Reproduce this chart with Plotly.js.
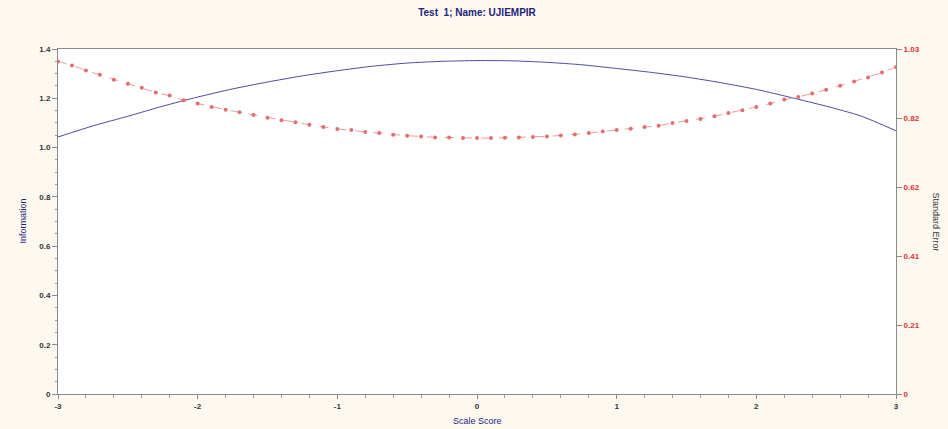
<!DOCTYPE html>
<html>
<head>
<meta charset="utf-8">
<script src="https://cdn.plot.ly/plotly-3.0.1.min.js"></script>
<style>html,body{margin:0;padding:0;background:#fdf9f1;}</style>
</head>
<body>
<div id="chart" style="width:948px;height:429px;"></div>
<script>
// Information curve (left axis)
const infoX = [-3.0,-2.75,-2.5,-2.25,-2.0,-1.75,-1.5,-1.25,-1.0,-0.75,-0.5,-0.25,0,0.25,0.5,0.75,1.0,1.25,1.5,1.75,2.0,2.25,2.5,2.75,3.0];
const infoY = [1.043,1.088,1.127,1.168,1.205,1.238,1.266,1.291,1.312,1.330,1.343,1.350,1.353,1.352,1.346,1.336,1.321,1.305,1.286,1.263,1.236,1.203,1.168,1.128,1.068];

// Standard error curve (right axis)
const seX = [-3.0,-2.9,-2.8,-2.7,-2.6,-2.5,-2.4,-2.3,-2.2,-2.1,-2.0,-1.9,-1.8,-1.7,-1.6,-1.5,-1.4,-1.3,-1.2,-1.1,-1.0,-0.9,-0.8,-0.7,-0.6,-0.5,-0.4,-0.3,-0.2,-0.1,0,0.1,0.2,0.3,0.4,0.5,0.6,0.7,0.8,0.9,1.0,1.1,1.2,1.3,1.4,1.5,1.6,1.7,1.8,1.9,2.0,2.1,2.2,2.3,2.4,2.5,2.6,2.7,2.8,2.9,3.0];
const seY = [0.993,0.981,0.966,0.953,0.938,0.926,0.914,0.900,0.891,0.877,0.867,0.857,0.849,0.841,0.833,0.825,0.817,0.811,0.804,0.797,0.791,0.788,0.782,0.779,0.774,0.771,0.769,0.766,0.766,0.764,0.764,0.764,0.765,0.766,0.767,0.769,0.772,0.775,0.779,0.784,0.788,0.792,0.797,0.801,0.809,0.815,0.821,0.829,0.839,0.847,0.857,0.867,0.879,0.887,0.897,0.908,0.920,0.933,0.945,0.960,0.976];

const xTicks = [-3,-2,-1,0,1,2,3];
const xTickText = ['-3','-2','-1','0','1','2','3'];
const yTicks = [0,0.2,0.4,0.6,0.8,1.0,1.2,1.4];
const yTickText = ['0','0.2','0.4','0.6','0.8','1.0','1.2','1.4'];
const y2Ticks = [0,0.206,0.412,0.618,0.824,1.03];
const y2TickText = ['0','0.21','0.41','0.62','0.82','1.03'];

const titleText = 'Test  1; Name: UJIEMPIR';
const xTitle = 'Scale Score';
const yTitle = 'Information';
const y2Title = 'Standard Error';

const navy = '#23237a';
const font = 'Liberation Sans, Arial, sans-serif';

const traces = [
  {x: infoX, y: infoY, type: 'scatter', mode: 'lines', line: {color: '#4a4aa6', width: 1, shape: 'spline', smoothing: 0.6}, yaxis: 'y', hoverinfo: 'skip'},
  {x: seX, y: seY, type: 'scatter', mode: 'lines+markers', yaxis: 'y2',
   line: {color: '#f29a9a', width: 1, dash: 'dash'},
   marker: {color: '#e36e6e', size: 4, symbol: 'circle'}, hoverinfo: 'skip'}
];

const layout = {
  width: 948, height: 429,
  paper_bgcolor: '#fdf9f1', plot_bgcolor: '#ffffff',
  showlegend: false,
  margin: {l: 58, r: 52, t: 49, b: 35},
  font: {family: font, size: 9, color: '#333'},
  title: {text: '<b>' + titleText + '</b>', font: {family: font, size: 10, color: navy}, x: 0.5, xref: 'paper', y: 0.97, yanchor: 'middle', yref: 'container'},
  xaxis: {range: [-3, 3], tickmode: 'array', tickvals: xTicks, ticktext: xTickText,
    showline: true, linecolor: '#8a8a8a', linewidth: 1, mirror: true,
    ticks: 'outside', ticklen: 4, tickcolor: '#8a8a8a',
    minor: {dtick: 0.2, ticks: 'outside', ticklen: 3, tickcolor: '#9a9a9a', showgrid: false},
    showgrid: false, zeroline: false, tickfont: {size: 8, color: '#333', weight: 'bold'}},
  yaxis: {range: [0, 1.4], tickmode: 'array', tickvals: yTicks, ticktext: yTickText,
    showline: true, linecolor: '#8a8a8a', linewidth: 1,
    ticks: 'outside', ticklen: 5, tickcolor: '#8a8a8a',
    minor: {dtick: 0.05, ticks: 'outside', ticklen: 2, tickcolor: '#9a9a9a', showgrid: false},
    showgrid: false, zeroline: false, tickfont: {size: 8, color: '#333', weight: 'bold'}},
  yaxis2: {range: [0, 1.03], overlaying: 'y', side: 'right', tickmode: 'array', tickvals: y2Ticks, ticktext: y2TickText,
    showline: true, linecolor: '#8a8a8a', linewidth: 1,
    ticks: 'outside', ticklen: 5, tickcolor: '#8a8a8a',
    showgrid: false, zeroline: false, tickfont: {size: 8, color: '#e03030', weight: 'bold'}},
  annotations: [
    {text: xTitle, xref: 'paper', yref: 'paper', x: 0.5, y: 0, yanchor: 'middle', yshift: -27, showarrow: false, font: {family: font, size: 9, color: navy}},
    {text: yTitle, xref: 'paper', yref: 'paper', x: 0, y: 0.5, xanchor: 'center', xshift: -36, textangle: -90, showarrow: false, font: {family: font, size: 9, color: navy}},
    {text: y2Title, xref: 'paper', yref: 'paper', x: 1, y: 0.5, xanchor: 'center', xshift: 40, textangle: 90, showarrow: false, font: {family: font, size: 9, color: '#333'}}
  ]
};

Plotly.newPlot('chart', traces, layout, {displayModeBar: false, staticPlot: true});
</script>
</body>
</html>
